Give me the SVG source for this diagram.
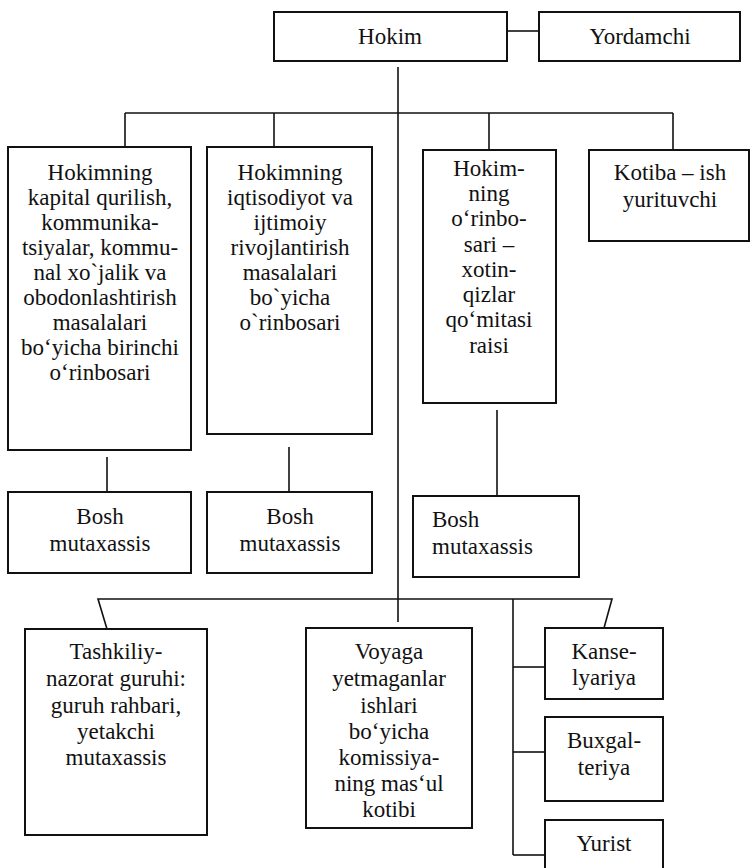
<svg xmlns="http://www.w3.org/2000/svg" width="753" height="868" viewBox="0 0 753 868">
<style>
rect{fill:#fff;stroke:#111;stroke-width:2}
.c line,.c polyline{stroke:#111;stroke-width:1.6;fill:none}
text{font-family:"Liberation Serif","DejaVu Serif","Times New Roman",serif;font-size:23px;fill:#111;text-anchor:middle}
.l{text-anchor:start}
</style>
<rect x="0" y="0" width="753" height="868" style="stroke:none"/>
<g class="c" id="connectors">
<line x1="507" y1="31" x2="539" y2="31"/>
<line x1="398" y1="67" x2="398" y2="622"/>
<line x1="125" y1="113" x2="673" y2="113"/>
<line x1="125" y1="113" x2="125" y2="147"/>
<line x1="274" y1="113" x2="274" y2="147"/>
<line x1="489" y1="113" x2="489" y2="150"/>
<line x1="673" y1="113" x2="673" y2="150"/>
<line x1="107" y1="457" x2="107" y2="492"/>
<line x1="289" y1="447" x2="289" y2="492"/>
<line x1="497" y1="410" x2="497" y2="496"/>
<polyline points="107,629 98,599 612,599 604,628"/>
<line x1="513" y1="599" x2="513" y2="855"/>
<line x1="513" y1="667" x2="545" y2="667"/>
<line x1="513" y1="752" x2="545" y2="752"/>
<line x1="513" y1="855" x2="545" y2="855"/>
</g>
<g id="hokim"><rect x="274" y="12" width="233" height="49"/><text x="390" y="44">Hokim</text></g>
<g id="yordamchi"><rect x="539" y="12" width="201" height="49"/><text x="640" y="44">Yordamchi</text></g>
<g id="orinbosar1"><rect x="8" y="147" width="183" height="303"/>
<text x="100" y="180">Hokimning</text>
<text x="100" y="205">kapital qurilish,</text>
<text x="100" y="230">kommunika-</text>
<text x="100" y="255">tsiyalar, kommu-</text>
<text x="100" y="280">nal xo`jalik va</text>
<text x="100" y="305">obodonlashtirish</text>
<text x="100" y="330">masalalari</text>
<text x="100" y="355">bo‘yicha birinchi</text>
<text x="100" y="380">o‘rinbosari</text>
</g>
<g id="orinbosar2"><rect x="207" y="147" width="165" height="287"/>
<text x="290" y="180">Hokimning</text>
<text x="290" y="205">iqtisodiyot va</text>
<text x="290" y="230">ijtimoiy</text>
<text x="290" y="255">rivojlantirish</text>
<text x="290" y="280">masalalari</text>
<text x="290" y="305">bo`yicha</text>
<text x="290" y="330">o`rinbosari</text>
</g>
<g id="orinbosar3"><rect x="423" y="150" width="133" height="253"/>
<text x="489" y="176">Hokim-</text>
<text x="489" y="201">ning</text>
<text x="489" y="226">o‘rinbo-</text>
<text x="489" y="252">sari –</text>
<text x="489" y="277">xotin-</text>
<text x="489" y="302">qizlar</text>
<text x="489" y="327">qo‘mitasi</text>
<text x="489" y="353">raisi</text>
</g>
<g id="kotiba"><rect x="589" y="150" width="160" height="91"/>
<text x="670" y="180">Kotiba – ish</text>
<text x="670" y="207">yurituvchi</text>
</g>
<g id="bosh1"><rect x="8" y="492" width="183" height="81"/>
<text x="100" y="524">Bosh</text><text x="100" y="551">mutaxassis</text></g>
<g id="bosh2"><rect x="207" y="492" width="165" height="81"/>
<text x="290" y="524">Bosh</text><text x="290" y="551">mutaxassis</text></g>
<g id="bosh3"><rect x="413" y="496" width="166" height="81"/>
<text class="l" x="432" y="527">Bosh</text><text class="l" x="432" y="554">mutaxassis</text></g>
<g id="tashkiliy"><rect x="25" y="629" width="182" height="206"/>
<text x="116" y="659">Tashkiliy-</text>
<text x="116" y="686">nazorat guruhi:</text>
<text x="116" y="713">guruh rahbari,</text>
<text x="116" y="739">yetakchi</text>
<text x="116" y="765">mutaxassis</text>
</g>
<g id="voyaga"><rect x="306" y="628" width="166" height="200"/>
<text x="389" y="659">Voyaga</text>
<text x="389" y="686">yetmaganlar</text>
<text x="389" y="713">ishlari</text>
<text x="389" y="739">bo‘yicha</text>
<text x="389" y="765">komissiya-</text>
<text x="389" y="791">ning mas‘ul</text>
<text x="389" y="817">kotibi</text>
</g>
<g id="kanselyariya"><rect x="545" y="628" width="118" height="71"/>
<text x="604" y="659">Kanse-</text><text x="604" y="685">lyariya</text></g>
<g id="buxgalteriya"><rect x="545" y="717" width="118" height="84"/>
<text x="604" y="748">Buxgal-</text><text x="604" y="775">teriya</text></g>
<g id="yurist"><rect x="545" y="820" width="118" height="60"/>
<text x="604" y="851">Yurist</text></g>
</svg>
